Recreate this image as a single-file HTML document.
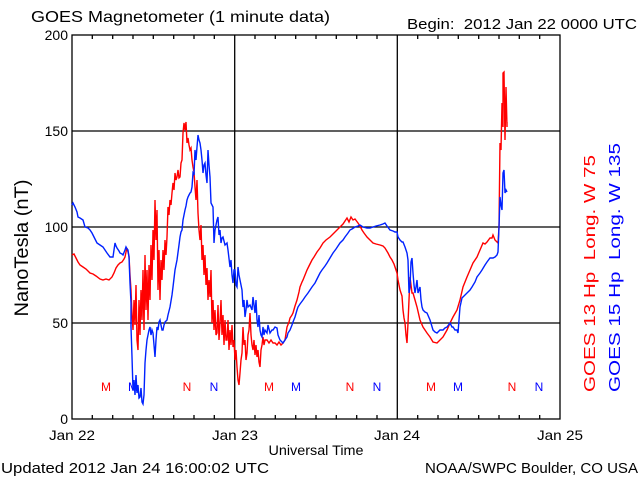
<!DOCTYPE html>
<html><head><meta charset="utf-8"><style>
html,body{margin:0;padding:0;background:#fff;}
svg{display:block;}
text{font-family:"Liberation Sans",sans-serif;}
</style></head><body>
<svg width="640" height="480" viewBox="0 0 640 480" xmlns="http://www.w3.org/2000/svg">
<rect x="0" y="0" width="640" height="480" fill="#fff"/>
<text x="31" y="22" font-size="16" textLength="299" lengthAdjust="spacingAndGlyphs">GOES Magnetometer (1 minute data)</text>
<text x="407" y="29" font-size="15" textLength="230" lengthAdjust="spacingAndGlyphs" xml:space="preserve">Begin:  2012 Jan 22 0000 UTC</text>

<g stroke="#000" stroke-width="1.3" fill="none">
<rect x="72" y="35" width="488" height="384"/>
<line x1="72" y1="131" x2="560" y2="131"/>
<line x1="72" y1="227" x2="560" y2="227"/>
<line x1="72" y1="323" x2="560" y2="323"/>
<line x1="234.7" y1="35" x2="234.7" y2="419"/>
<line x1="397.3" y1="35" x2="397.3" y2="419"/>
<path d="M92.3 35v4M112.7 35v4M133 35v4M153.3 35v4M173.7 35v4M194 35v4M214.3 35v4M255 35v4M275.3 35v4M295.7 35v4M316 35v4M336.3 35v4M356.7 35v4M377 35v4M417.7 35v4M438 35v4M458.3 35v4M478.7 35v4M499 35v4M519.3 35v4M539.7 35v4
M92.3 419v-4M112.7 419v-4M133 419v-4M153.3 419v-4M173.7 419v-4M194 419v-4M214.3 419v-4M255 419v-4M275.3 419v-4M295.7 419v-4M316 419v-4M336.3 419v-4M356.7 419v-4M377 419v-4M417.7 419v-4M438 419v-4M458.3 419v-4M478.7 419v-4M499 419v-4M519.3 419v-4M539.7 419v-4"/>
</g>

<g font-size="14" text-anchor="end">
<text x="68" y="40">200</text>
<text x="68" y="136">150</text>
<text x="68" y="232">100</text>
<text x="68" y="328">50</text>
<text x="68" y="424">0</text>
</g>
<text transform="translate(28,248) rotate(-90)" font-size="19" text-anchor="middle" textLength="137" lengthAdjust="spacingAndGlyphs">NanoTesla (nT)</text>

<g font-size="14" text-anchor="middle">
<text x="72" y="440" textLength="46" lengthAdjust="spacingAndGlyphs">Jan 22</text>
<text x="235" y="440" textLength="46" lengthAdjust="spacingAndGlyphs">Jan 23</text>
<text x="397" y="440" textLength="46" lengthAdjust="spacingAndGlyphs">Jan 24</text>
<text x="560" y="440" textLength="46" lengthAdjust="spacingAndGlyphs">Jan 25</text>
<text x="316" y="455" textLength="95" lengthAdjust="spacingAndGlyphs">Universal Time</text>
</g>
<text x="1" y="473" font-size="15" textLength="268" lengthAdjust="spacingAndGlyphs">Updated 2012 Jan 24 16:00:02 UTC</text>
<text x="425" y="473" font-size="15" textLength="213" lengthAdjust="spacingAndGlyphs">NOAA/SWPC Boulder, CO USA</text>

<text transform="translate(595,392) rotate(-90)" font-size="16" fill="#ff0000" textLength="237" lengthAdjust="spacingAndGlyphs" xml:space="preserve">GOES 13 Hp  Long. W 75</text>
<text transform="translate(620,392) rotate(-90)" font-size="16" fill="#0000ff" textLength="249" lengthAdjust="spacingAndGlyphs" xml:space="preserve">GOES 15 Hp  Long. W 135</text>

<g font-size="12" text-anchor="middle">
<text x="106" y="391" fill="#ff0000">M</text>
<text x="133" y="391" fill="#0000ff">M</text>
<text x="187" y="391" fill="#ff0000">N</text>
<text x="214" y="391" fill="#0000ff">N</text>
<text x="269" y="391" fill="#ff0000">M</text>
<text x="296" y="391" fill="#0000ff">M</text>
<text x="350" y="391" fill="#ff0000">N</text>
<text x="377" y="391" fill="#0000ff">N</text>
<text x="431" y="391" fill="#ff0000">M</text>
<text x="458" y="391" fill="#0000ff">M</text>
<text x="512" y="391" fill="#ff0000">N</text>
<text x="539" y="391" fill="#0000ff">N</text>
</g>

<polyline fill="none" stroke="#ff0000" stroke-width="1.4" stroke-linejoin="miter" points="72,255 74,254 76,258 78,262 80,265 83,267 86,269 88,271 90,273 93,274 96,276 100,279 103,280 106,279 109,280 112,277 114,273 116,268 118,265 120,263 122,262 124,259 125,257 126,252 127,248 128,252 129,256 130,275 131,290 132,315 133,330 134,300 135,325 136,285 137,340 138,350 139,300 140,335 141,290 142,320 143,270 144,330 145,255 146,310 147,270 148,320 149,265 150,300 151,245 152,280 153,230 154,260 155,200 156,240 157,210 158,290 159,250 160,300 161,260 162,280 163,250 164,270 165,240 166,255 167,237 168,207 169,215 170,200 171,205 172,193 173,183 174,190 175,173 176,180 177,177 178,170 179,178 180,177 181,163 182,160 183,133 184,123 185,130 186,122 187,143 188,138 189,145 190,150 191,148 192,160 193,167 194,172 195,187 196,200 197,180 198,213 199,230 200,240 201,225 202,260 203,245 204,275 205,255 206,285 207,268 208,300 209,280 210,297 211,270 212,323 213,300 214,330 215,310 216,335 217,333 218,305 219,340 220,323 221,300 222,335 223,315 224,345 225,320 226,340 227,340 228,320 229,350 230,330 231,345 232,325 233,347 234,340 235,360 236,350 237,367 238,380 239,385 240,373 241,360 242,353 243,327 244,345 245,340 246,360 247,353 248,335 249,330 250,313 251,335 252,345 253,350 254,340 255,355 256,345 257,357 258,350 259,362 260,367 261,350 262,345 263,337 264,345 265,340 267,340 269,343 271,340 273,343 275,343 277,345 279,342 281,345 283,343 285,340 287,327 289,322 290,318 292,315 293,313 295,306 297,300 299,292 300,287 302,282 303,280 305,275 307,270 309,266 312,260 314,257 317,252 320,248 323,243 326,240 330,237 333,234 337,230 340,227 343,224 347,218 349,222 351,217 353,220 355,219 358,223 360,226 362,230 364,233 367,237 370,240 373,243 376,244 380,245 383,246 385,248 388,253 390,257 392,260 394,264 395,267 397,273 398,280 400,290 402,296 403,310 404,318 405,323 406,335 407,343 408,323 409,300 410,277 411,285 412,293 413,293 415,300 417,307 420,320 423,327 427,333 430,337 433,342 437,343 440,340 443,337 447,330 450,323 453,317 457,310 460,300 463,287 467,277 470,270 473,263 477,257 480,250 483,243 485,244 487,242 490,238 492,238 493,235 495,240 497,242 498,243 499,227 500,143 501,150 502,103 503,127 503,73 504,72 505,140 506,87 507,127 507,122"/>

<polyline fill="none" stroke="#0022ff" stroke-width="1.4" stroke-linejoin="miter" points="72,205 73,203 75,207 77,212 78,217 80,218 83,220 85,227 88,228 90,230 92,233 94,237 97,243 100,245 103,247 105,250 107,253 110,257 113,257 114,250 115,243 116,246 117,248 119,251 120,253 122,254 123,255 125,250 126,247 127,249 128,250 129,257 130,283 131,303 131,327 132,357 133,390 134,380 135,395 136,375 137,393 138,385 139,398 140,397 141,388 142,402 143,404 144,395 145,363 146,350 147,340 148,335 149,330 150,327 151,335 152,330 153,333 154,345 155,357 156,340 157,327 158,330 159,322 160,320 161,325 162,330 163,330 164,325 165,322 167,320 168,315 170,307 172,295 173,287 175,270 177,260 179,245 180,237 181,232 182,230 183,220 184,215 185,210 186,206 187,200 188,197 189,195 190,193 191,192 192,187 193,173 194,175 195,150 196,160 197,147 198,135 199,140 200,143 201,150 202,160 203,173 204,165 205,163 206,175 207,183 208,150 209,165 210,177 211,203 212,205 213,207 214,243 215,230 216,225 217,220 218,217 219,235 220,230 221,243 222,238 223,237 225,245 227,243 228,250 230,267 231,260 232,275 233,283 234,270 235,270 236,285 237,287 238,267 239,275 240,280 241,285 242,290 243,307 244,300 245,317 246,310 247,300 248,307 250,305 252,310 253,297 254,305 255,313 256,300 257,320 258,327 259,315 260,330 261,335 262,337 263,327 264,335 265,330 267,333 268,325 270,333 272,330 273,330 275,327 277,328 278,335 280,340 282,342 283,343 285,340 287,337 288,333 290,330 292,325 293,322 295,317 297,310 298,307 300,304 303,300 305,297 308,293 310,290 312,287 315,283 318,277 320,273 322,270 325,266 327,263 330,258 333,253 336,249 340,243 343,240 345,237 348,233 350,230 352,229 355,227 358,226 360,225 363,227 367,228 370,228 373,227 376,226 380,225 383,224 385,223 387,226 390,230 393,231 395,232 397,232 398,237 400,240 402,242 403,242 405,247 407,253 408,260 409,293 410,287 411,262 412,258 413,273 414,285 415,293 416,287 417,280 418,293 419,290 420,287 421,300 422,307 423,310 425,312 427,313 430,320 433,330 435,332 437,333 440,330 443,330 445,328 447,327 450,323 452,327 453,327 455,330 457,330 458,333 459,320 460,307 462,298 464,296 467,293 470,290 472,287 475,282 477,277 480,273 482,270 485,265 487,262 490,258 493,258 495,257 497,255 498,252 499,227 500,197 501,205 502,210 503,173 504,170 505,193 506,190 507,192"/>
</svg>
</body></html>
